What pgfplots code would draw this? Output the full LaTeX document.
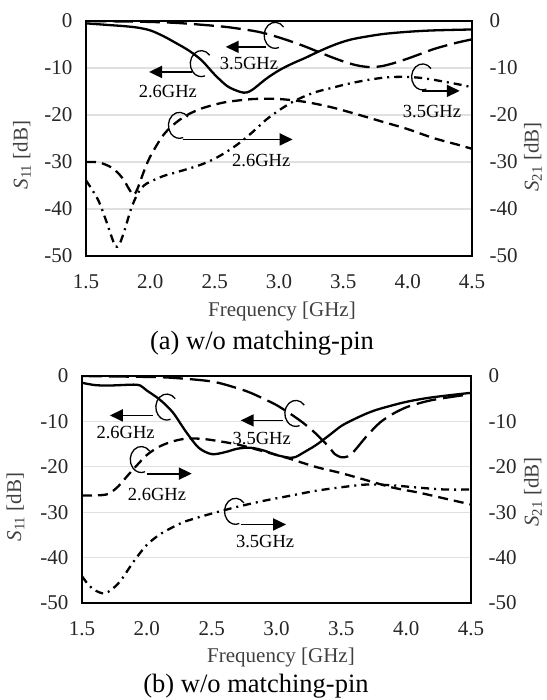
\documentclass[border=0pt]{standalone}
\usepackage{fontspec}
\setmainfont{Liberation Serif}
\usepackage{pgfplots}
\pgfplotsset{compat=1.18}
\usetikzlibrary{arrows.meta}
\definecolor{tickgray}{HTML}{262626}
\definecolor{labgray}{HTML}{404040}
\definecolor{gridgray}{HTML}{E0E0E0}
\newcommand\tfont{\fontsize{21bp}{24bp}\selectfont}
\newcommand\afont{\fontsize{18.5bp}{21bp}\selectfont}
\newcommand\cfont{\fontsize{26.5bp}{30bp}\selectfont}
\newcommand\ring[2]{\draw[line width=1.3bp] (axis cs:#1,#2) ++(40:11bp and 13bp) arc[start angle=40,end angle=290,x radius=11bp,y radius=13bp];}
\newcommand\arr[3]{\draw[line width=1.8bp,-{Triangle[length=13bp,width=12bp]}] (axis cs:#1,#3) -- (axis cs:#2,#3);}
\newcommand\lab[3]{\node[font=\afont,inner sep=0pt] at (axis cs:#1,#2) {#3};}
\pgfplotsset{
  base/.style={scale only axis, xmin=1.5, xmax=4.5, ymin=-50, ymax=0,
    /pgf/number format/assume math mode=true,
    tick label style={font=\tfont, text=tickgray},
    major tick length=0pt, ytick={-50,-40,...,0}},
  main/.style={base, axis line style={black, line width=1.6bp},
    ymajorgrids, grid style={gridgray, line width=1.1bp},
    xtick={1.5,2.0,2.5,3.0,3.5,4.0,4.5},
    xticklabel style={/pgf/number format/fixed, /pgf/number format/fixed zerofill, /pgf/number format/precision=1, yshift=-15bp},
    yticklabel style={xshift=-10bp}},
  rightax/.style={base, axis x line=none, axis y line*=right,
    axis line style={draw=none}, yticklabel style={xshift=14bp}},
  c1/.style={black, line width=2.3bp, smooth, tension=0.5},
  c2/.style={black, line width=2.3bp, smooth, tension=0.5, dash pattern=on 20bp off 7bp},
  c3/.style={black, line width=2.3bp, smooth, tension=0.5, dash pattern=on 10bp off 6bp},
  c4/.style={black, line width=2.3bp, smooth, tension=0.5, dash pattern=on 8bp off 5bp on 2bp off 5bp},
}
\begin{document}
\begin{tikzpicture}
\path[use as bounding box] (0,0) rectangle (547bp,-700bp);
% ---------------- (a) ----------------
\begin{axis}[main, at={(86bp,-256bp)}, anchor=south west, width=386bp, height=235bp]
\addplot[c1] coordinates {(1.5,-0.5)(1.6,-0.7)(1.7,-0.9)(1.8,-1.1)(1.9,-1.4)(2.0,-2.0)(2.1,-3.2)(2.2,-4.7)(2.3,-6.3)(2.4,-8.4)(2.5,-11.4)(2.6,-13.9)(2.7,-15.1)(2.75,-15.2)(2.8,-14.5)(2.9,-12.3)(3.0,-10.5)(3.1,-9.1)(3.2,-7.9)(3.3,-6.6)(3.4,-5.4)(3.5,-4.4)(3.6,-3.7)(3.8,-2.8)(4.0,-2.3)(4.2,-2.0)(4.5,-1.8)};
\addplot[c2] coordinates {(1.5,0)(1.8,-0.1)(2.0,-0.2)(2.2,-0.4)(2.4,-0.8)(2.6,-1.3)(2.8,-2.1)(2.9,-2.7)(3.0,-3.5)(3.1,-4.4)(3.2,-5.4)(3.3,-6.5)(3.4,-7.6)(3.5,-8.6)(3.6,-9.4)(3.7,-9.8)(3.8,-9.6)(3.9,-8.9)(4.0,-8.0)(4.1,-7.0)(4.2,-6.0)(4.3,-5.2)(4.4,-4.5)(4.5,-3.9)};
\addplot[c3] coordinates {(1.5,-30.0)(1.6,-30.1)(1.7,-31.2)(1.78,-33.3)(1.84,-36.0)(1.87,-37.0)(1.9,-35.7)(1.95,-32.0)(2.0,-28.8)(2.1,-24.3)(2.2,-21.6)(2.3,-19.8)(2.4,-18.6)(2.5,-17.8)(2.6,-17.2)(2.8,-16.6)(3.0,-16.6)(3.2,-17.2)(3.4,-18.3)(3.6,-19.8)(3.8,-21.4)(4.0,-23.0)(4.2,-24.9)(4.4,-26.4)(4.5,-27.2)};
\addplot[c4] coordinates {(1.5,-33.9)(1.55,-36.0)(1.6,-38.4)(1.65,-42.0)(1.7,-46.0)(1.73,-48.0)(1.76,-47.5)(1.8,-44.5)(1.85,-40.0)(1.9,-36.8)(1.95,-35.0)(2.0,-34.2)(2.1,-33.0)(2.2,-32.2)(2.3,-31.4)(2.4,-30.5)(2.5,-29.3)(2.6,-27.7)(2.7,-25.8)(2.8,-23.5)(2.9,-21.0)(3.0,-19.0)(3.1,-17.3)(3.2,-16.0)(3.3,-15.0)(3.4,-14.3)(3.5,-13.6)(3.6,-13.0)(3.7,-12.5)(3.8,-12.1)(3.9,-11.9)(4.0,-11.9)(4.1,-12.1)(4.2,-12.5)(4.3,-13.0)(4.4,-13.5)(4.5,-14.1)};
\ring{2.97}{-3.05}\arr{2.90}{2.586}{-5.5}\lab{2.767}{-9.1}{3.5GHz}
\ring{2.396}{-9.07}\arr{2.32}{1.99}{-10.84}\lab{2.136}{-15.1}{2.6GHz}
\ring{2.226}{-22.2}\arr{2.253}{3.106}{-25.2}\lab{2.862}{-29.7}{2.6GHz}
\ring{4.116}{-11.9}\arr{4.108}{4.405}{-14.87}\lab{4.189}{-19.3}{3.5GHz}
\end{axis}
\begin{axis}[rightax, at={(86bp,-256bp)}, anchor=south west, width=386bp, height=235bp]
\end{axis}
\node[font=\tfont, text=labgray, rotate=90] at (22bp,-155bp) {\textit{S}\textsubscript{11} [dB]};
\node[font=\tfont, text=labgray, rotate=90] at (533bp,-157bp) {\textit{S}\textsubscript{21} [dB]};
\node[font=\tfont, text=labgray] at (282bp,-311bp) {Frequency [GHz]};
\node[font=\cfont] at (262bp,-343bp) {(a) w/o matching-pin};
% ---------------- (b) ----------------
\begin{axis}[main, at={(82bp,-603bp)}, anchor=south west, width=389bp, height=227bp]
\addplot[c1] coordinates {(1.5,-1.5)(1.6,-2.0)(1.7,-2.1)(1.8,-2.0)(1.9,-1.9)(1.95,-2.1)(2.0,-3.2)(2.1,-5.2)(2.2,-8.0)(2.3,-12.2)(2.4,-15.8)(2.5,-17.2)(2.6,-16.8)(2.7,-16.0)(2.8,-15.8)(2.9,-16.4)(3.0,-17.4)(3.1,-18.0)(3.15,-17.8)(3.2,-17.0)(3.3,-15.3)(3.4,-13.2)(3.5,-11.0)(3.6,-9.5)(3.7,-8.2)(3.8,-7.2)(4.0,-5.7)(4.2,-4.7)(4.5,-3.7)};
\addplot[c2] coordinates {(1.5,0)(2.0,-0.2)(2.2,-0.4)(2.5,-1.2)(2.7,-2.7)(2.8,-3.7)(2.9,-5.0)(3.0,-6.4)(3.1,-8.2)(3.2,-10.2)(3.3,-12.6)(3.4,-15.5)(3.45,-17.2)(3.5,-17.9)(3.55,-17.7)(3.6,-16.5)(3.7,-13.1)(3.8,-10.2)(3.9,-8.3)(4.0,-6.9)(4.1,-6.0)(4.2,-5.3)(4.35,-4.6)(4.5,-4.0)};
\addplot[c3] coordinates {(1.5,-26.3)(1.6,-26.3)(1.7,-26.0)(1.78,-24.3)(1.85,-22.0)(1.9,-20.4)(2.0,-17.4)(2.1,-15.5)(2.2,-14.4)(2.3,-13.8)(2.4,-13.8)(2.5,-14.1)(2.7,-15.1)(2.9,-16.6)(3.1,-18.2)(3.3,-20.0)(3.5,-21.4)(3.7,-23.0)(3.9,-24.6)(4.1,-25.7)(4.3,-27.0)(4.5,-28.3)};
\addplot[c4] coordinates {(1.5,-44.1)(1.55,-46.0)(1.6,-47.2)(1.67,-47.9)(1.73,-47.0)(1.8,-45.0)(1.9,-40.8)(2.0,-37.2)(2.1,-34.9)(2.2,-33.3)(2.3,-32.0)(2.5,-30.3)(2.7,-28.8)(2.9,-27.5)(3.1,-26.4)(3.3,-25.3)(3.5,-24.5)(3.7,-23.9)(3.9,-24.1)(4.1,-24.6)(4.3,-25.0)(4.5,-25.0)};
\ring{2.154}{-6.84}\arr{2.046}{1.715}{-8.68}\lab{1.836}{-12.5}{2.6GHz}
\ring{3.149}{-8.24}\arr{3.047}{2.724}{-9.78}\lab{2.886}{-13.8}{3.5GHz}
\ring{1.957}{-18.4}\arr{1.998}{2.347}{-21.5}\lab{2.078}{-26.1}{2.6GHz}
\ring{2.684}{-29.8}\arr{2.724}{3.074}{-32.7}\lab{2.912}{-36.4}{3.5GHz}
\end{axis}
\begin{axis}[rightax, at={(82bp,-603bp)}, anchor=south west, width=389bp, height=227bp]
\end{axis}
\node[font=\tfont, text=labgray, rotate=90] at (15.5bp,-507bp) {\textit{S}\textsubscript{11} [dB]};
\node[font=\tfont, text=labgray, rotate=90] at (533bp,-492bp) {\textit{S}\textsubscript{21} [dB]};
\node[font=\tfont, text=labgray] at (281bp,-657bp) {Frequency [GHz]};
\node[font=\cfont] at (256bp,-686bp) {(b) w/o matching-pin};
\end{tikzpicture}
\end{document}
